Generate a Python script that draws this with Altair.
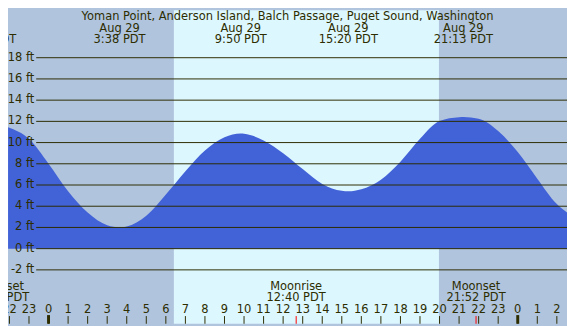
import altair as alt
import pandas as pd

# ---- data ----
# tide curve: hours after midnight Aug 29 (PDT), height in ft
tide_hours = [-2.07, -1, 0, 1, 2, 3, 3.63, 4, 5, 6, 7, 8, 9, 9.83, 10, 11, 12, 13, 14, 15,
              15.33, 16, 17, 18, 19, 20, 21, 21.22, 22, 23, 24, 25, 26, 26.52]
tide_ft = [11.45, 10.35, 8.0, 5.4, 3.4, 2.2, 2.0, 2.08, 3.1, 5.1, 7.3, 9.25, 10.5, 10.85,
           10.83, 10.2, 9.0, 7.5, 6.1, 5.45, 5.4, 5.6, 6.5, 8.2, 10.35, 12.03, 12.38, 12.4,
           12.25, 11.1, 9.1, 6.6, 4.2, 3.4]

sunrise_h = 6.41
sunset_h = 19.97

grid_ft = [-2, 0, 2, 4, 6, 8, 10, 12, 14, 16, 18]
grid_labels = [f"{v} ft" for v in grid_ft]

event_hours = [-3.17, 3.633, 9.833, 15.333, 21.217]
event_dates = ["Aug 28", "Aug 29", "Aug 29", "Aug 29", "Aug 29"]
event_times = ["20:50 PDT", "3:38 PDT", "9:50 PDT", "15:20 PDT", "21:13 PDT"]

moon_hours = [-2.5, 12.667, 21.867]
moon_names = ["Moonset", "Moonrise", "Moonset"]
moon_times = ["21:30 PDT", "12:40 PDT", "21:52 PDT"]
moon_tick_hours = [12.667, 21.867]

hour_ticks = list(range(-2, 27))
hour_labels = [str(h % 24) for h in hour_ticks]
midnight_hours = [0, 24]

title = "Yoman Point, Anderson Island, Balch Passage, Puget Sound, Washington"

# ---- styling ----
NIGHT = "#B0C4DE"
DAY = "#DDF7FF"
WATER = "#4262D8"
INK = "#2d2d00"
FONT = "DejaVu Sans"
FS = 11.6
# page has an 8px margin: the visible area is 567x318
W, H = 567, 318
sx, sy = W / 575, H / 326

xs = alt.Scale(domain=[-2.074, 26.52], nice=False, zero=False)
ys = alt.Scale(domain=[-7.08, 22.475], nice=False, zero=False)

tide_df = pd.DataFrame({"h": tide_hours, "ft": tide_ft})
day_df = pd.DataFrame({"a": [sunrise_h], "b": [sunset_h]})
grid_df = pd.DataFrame({"ft": grid_ft, "lab": grid_labels})
ev_df = pd.DataFrame({"h": event_hours, "d": event_dates, "t": event_times})
moon_df = pd.DataFrame({"h": moon_hours, "n": moon_names, "t": moon_times})
hr_df = pd.DataFrame({"h": hour_ticks, "lab": hour_labels})
mid_df = pd.DataFrame({"h": midnight_hours})
mt_df = pd.DataFrame({"h": moon_tick_hours})
title_df = pd.DataFrame({"t": [title]})

X = lambda f: alt.X(f, type="quantitative", scale=xs, axis=None)
Y = lambda f: alt.Y(f, type="quantitative", scale=ys, axis=None)


def txt(df, **kw):
    return alt.Chart(df).mark_text(font=FONT, fontSize=FS, color=INK, align="center",
                                   baseline="middle", **kw)


day = alt.Chart(day_df).mark_rect(color=DAY).encode(
    x=X("a"), x2="b", y=alt.value(0), y2=alt.value(H))

area = alt.Chart(tide_df).mark_area(color=WATER, interpolate="monotone").encode(
    x=X("h"), y=Y("ft"), y2=alt.value(H))

grid = alt.Chart(grid_df).mark_rule(color=INK, strokeWidth=1).encode(
    y=Y("ft"), x=alt.value(29 * sx), x2=alt.value(W))

ylab = alt.Chart(grid_df).mark_text(font=FONT, fontSize=FS, color=INK, align="right",
                                    baseline="middle").encode(
    y=Y("ft"), x=alt.value(27 * sx), text="lab")

ttl = txt(title_df).encode(x=alt.value(287.5 * sx), y=alt.value(7.5 * sy), text="t")
evd = txt(ev_df).encode(x=X("h"), y=alt.value(19.5 * sy), text="d")
evt = txt(ev_df).encode(x=X("h"), y=alt.value(31.5 * sy), text="t")
mn = txt(moon_df).encode(x=X("h"), y=alt.value(287.5 * sy), text="n")
mt = txt(moon_df).encode(x=X("h"), y=alt.value(299.5 * sy), text="t")
hl = txt(hr_df).encode(x=X("h"), y=alt.value(311.5 * sy), text="lab")

ticks = alt.Chart(hr_df).mark_rule(color=INK, strokeWidth=1).encode(
    x=X("h"), y=alt.value(318 * sy), y2=alt.value(H))
mid = alt.Chart(mid_df).mark_rule(color=INK, strokeWidth=3).encode(
    x=X("h"), y=alt.value(317 * sy), y2=alt.value(H))
mticks = alt.Chart(mt_df).mark_rule(color="#FF0000", strokeWidth=1).encode(
    x=X("h"), y=alt.value(318 * sy), y2=alt.value(H))

chart = alt.layer(day, area, grid, ylab, ttl, evd, evt, mn, mt, hl, ticks, mid, mticks).properties(
    width=W, height=H, padding=0, autosize=alt.AutoSizeParams(type="none"),
    background=NIGHT
).configure_view(stroke=None, fill=NIGHT)

chart.save("out.html", embed_options={"renderer": "svg", "actions": False})
